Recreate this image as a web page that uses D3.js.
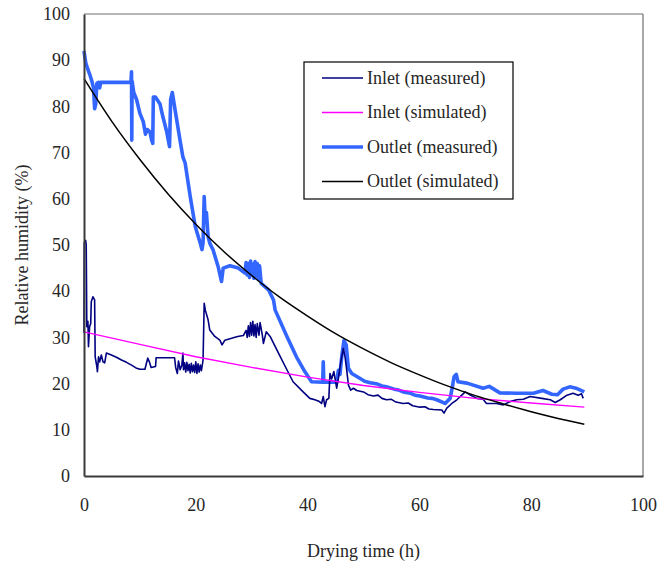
<!DOCTYPE html>
<html>
<head>
<meta charset="utf-8">
<script src="https://cdn.jsdelivr.net/npm/d3@7"></script>
<style>
  html, body { margin: 0; padding: 0; background: #fff; }
  svg { display: block; }
  text { font-family: "Liberation Serif", "Times New Roman", serif; fill: #262626; }
</style>
</head>
<body>
<svg id="chart" width="658" height="564"></svg>
<script>
// Relative humidity at dryer inlet and outlet, [drying time (h), RH (%)]
const inletMeasured = [
  [0.0, 31.0], [0.05, 50.5], [0.3, 51.0], [0.4, 50.0], [0.5, 32.3], [0.7, 33.5], [0.8, 28.0],
  [1.0, 32.3], [1.2, 33.0], [1.3, 37.7], [1.6, 38.8], [1.9, 38.1], [2.0, 25.8], [2.3, 23.7],
  [2.4, 22.6], [2.6, 25.8], [2.8, 24.7], [3.1, 26.2], [3.4, 24.7], [3.7, 24.5], [4.0, 26.6],
  [4.9, 26.2], [5.8, 25.7], [6.7, 25.1], [7.6, 24.6], [8.5, 24.0], [9.3, 23.4], [10.0, 23.1],
  [10.9, 23.1], [11.4, 25.5], [11.7, 24.7],
  [12.0, 23.5], [12.8, 23.7], [12.9, 25.6], [16.2, 25.6], [16.4, 23.5], [16.7, 22.2], [16.9, 24.9],
  [17.2, 23.0], [17.5, 24.0], [17.7, 26.6], [17.8, 23.0], [18.0, 24.5], [18.2, 22.5], [18.4, 24.6],
  [18.6, 22.8], [18.8, 24.2], [19.0, 22.3], [19.2, 24.4], [19.4, 22.6], [19.6, 24.0], [19.8, 22.4],
  [20.0, 24.7], [20.2, 22.2], [20.4, 24.3], [20.6, 22.5], [20.8, 24.0], [21.0, 22.8], [21.3, 25.1],
  [21.5, 37.4], [21.7, 35.9], [22.2, 33.8], [22.5, 31.6], [23.4, 30.2], [24.3, 29.4], [24.7, 28.4],
  [25.2, 29.4], [26.4, 29.8], [27.5, 30.2], [28.5, 30.4], [29.0, 31.5], [29.2, 30.0], [29.4, 32.5],
  [29.6, 30.2], [29.8, 33.2], [30.0, 30.5], [30.2, 33.5], [30.4, 30.3], [30.6, 32.8], [30.8, 30.0],
  [31.0, 33.0], [31.3, 30.5], [31.5, 33.2], [31.9, 30.5], [32.1, 28.7], [32.6, 31.2], [33.3, 30.2],
  [34.5, 27.3], [36.0, 23.7], [37.4, 20.4], [39.2, 18.2], [40.4, 16.8], [41.3, 16.5], [42.0, 16.2],
  [42.5, 15.7], [42.8, 17.2], [43.1, 15.0], [43.4, 16.5], [43.8, 16.8], [44.0, 22.2], [44.3, 21.0],
  [44.7, 22.6], [45.0, 20.5], [45.2, 19.0], [45.5, 21.1], [45.9, 24.4], [46.4, 27.6], [46.7, 25.8],
  [47.0, 22.9], [47.3, 19.7], [47.7, 18.6], [48.2, 19.0], [48.8, 18.5], [50.0, 18.2], [50.8, 17.6],
  [51.8, 17.3], [52.6, 17.5], [53.3, 16.8], [54.1, 16.5], [55.0, 16.6], [55.8, 16.0], [57.1, 15.7],
  [58.0, 15.8], [58.8, 15.2], [60.1, 14.9], [61.0, 15.0], [61.7, 14.5], [62.5, 14.4], [64.0, 14.3],
  [64.4, 13.6], [64.9, 14.7],
  [65.8, 15.7], [66.7, 16.5], [67.3, 17.2], [68.2, 18.2], [69.1, 17.5], [70.3, 16.8], [71.4, 16.6],
  [72.0, 15.7], [73.8, 15.7], [75.0, 15.4], [76.2, 16.1], [77.4, 16.5], [78.6, 16.6], [79.8, 17.2],
  [81.9, 16.8], [83.4, 16.5], [84.3, 15.9], [85.2, 16.5], [86.4, 17.5], [87.5, 17.9], [88.4, 17.5],
  [89.0, 17.8], [89.3, 16.8]
];

const inletSimulated = [
  [0, 31.2], [10, 28.5], [20, 25.8], [30, 23.5], [40, 21.4], [50, 19.6],
  [60, 18.1], [70, 16.8], [80, 15.8], [89.5, 14.9]
];

const outletMeasured = [
  [0.0, 92.0], [0.3, 89.5], [0.7, 88.0], [1.0, 87.0], [1.4, 85.5], [1.7, 84.0], [1.9, 79.5],
  [2.1, 80.5], [2.3, 85.0], [2.6, 85.2], [2.8, 84.0], [3.0, 85.2], [8.4, 85.2], [8.5, 87.5],
  [8.55, 72.7], [8.6, 85.5], [8.9, 83.0], [9.4, 81.5], [10.0, 78.5], [10.6, 76.7], [11.0, 74.0],
  [11.3, 75.0], [11.8, 74.5], [12.1, 72.7], [12.3, 72.0], [12.4, 82.0], [12.8, 82.0], [13.6, 80.5],
  [14.1, 77.8], [14.8, 74.5], [15.3, 71.3], [15.5, 81.5], [15.8, 83.0], [16.3, 79.2], [16.8, 75.5],
  [17.2, 72.5], [17.7, 69.0], [18.1, 67.7], [19.0, 60.5], [19.9, 54.0], [20.8, 50.4], [21.1, 49.0],
  [21.3, 50.5], [21.5, 60.5], [21.7, 55.0], [21.9, 57.0], [22.2, 51.8], [22.5, 50.4], [23.1, 48.9],
  [24.0, 45.3], [24.6, 42.1], [24.9, 45.0], [26.1, 45.5], [27.6, 45.0], [28.8, 43.9], [29.0, 46.2],
  [29.2, 43.5], [29.4, 46.0], [29.6, 43.0], [29.8, 46.5], [30.0, 43.5], [30.2, 45.8], [30.4, 42.8],
  [30.6, 46.4], [30.8, 43.2], [31.0, 46.0], [31.2, 42.5], [31.4, 45.5], [31.7, 41.7], [33.0, 40.3],
  [33.9, 38.1], [34.2, 35.9], [36.3, 30.2], [38.0, 25.8], [39.5, 22.6], [40.7, 20.4], [42.7, 20.3],
  [42.8, 24.7], [42.9, 20.3], [45.2, 20.3], [45.5, 22.9], [45.8, 22.0], [46.1, 25.8], [46.5, 29.3],
  [46.9, 28.4], [47.3, 23.3], [47.9, 22.2], [49.4, 21.1], [50.2, 20.5], [51.2, 20.2], [52.5, 19.9],
  [53.3, 19.5], [54.1, 19.3], [55.5, 18.8], [56.3, 18.6], [57.1, 18.2], [58.4, 17.9], [59.2, 17.5],
  [60.1, 17.3], [61.5, 16.9], [62.3, 16.8], [63.1, 16.5], [64.6, 15.7], [65.5, 16.8], [65.9, 19.3],
  [66.2, 21.5], [66.6, 22.0],
  [66.9, 20.4], [68.5, 20.1], [71.4, 19.0], [72.5, 19.4], [74.4, 18.0], [77.4, 17.9], [80.4, 17.9],
  [82.1, 18.5], [83.7, 17.7], [84.7, 17.6], [85.7, 18.8], [86.9, 19.3], [88.0, 19.0], [89.5, 18.2]
];

const outletSimulated = [
  [0, 86.0], [5, 76.7], [10, 68.5], [15, 61.1], [20, 54.5], [25, 48.6], [30, 43.4],
  [35, 38.7], [40, 34.6], [45, 30.8], [50, 27.5], [55, 24.5], [60, 21.9], [65, 19.5],
  [70, 17.4], [75, 15.6], [80, 13.9], [85, 12.4], [89.5, 11.2]
];

const yTicks = [0, 10, 20, 30, 40, 50, 60, 70, 80, 90, 100];
const xTicks = [0, 20, 40, 60, 80, 100];
const seriesNames = ["Inlet (measured)", "Inlet (simulated)", "Outlet (measured)", "Outlet (simulated)"];
const xTitle = "Drying time (h)";
const yTitle = "Relative humidity (%)";

// ---- drawing ----
const svg = d3.select("#chart");
const plot = { left: 84, right: 643, top: 14, bottom: 476 };

const x = d3.scaleLinear().domain([0, 100]).range([plot.left, plot.right]);
const y = d3.scaleLinear().domain([0, 100]).range([plot.bottom, plot.top]);

const styles = [
  { data: inletMeasured,  color: "#000080", width: 1.6, curve: d3.curveLinear },
  { data: inletSimulated, color: "#ff00ff", width: 1.4, curve: d3.curveLinear },
  { data: outletMeasured, color: "#3366ff", width: 3.6, curve: d3.curveLinear },
  { data: outletSimulated, color: "#000000", width: 1.5, curve: d3.curveMonotoneX }
];

// plot frame: light top/right border, darker axes
svg.append("line").attr("x1", plot.left).attr("x2", plot.right).attr("y1", plot.top).attr("y2", plot.top)
  .attr("stroke", "#6e6e6e").attr("stroke-width", 1.2);
svg.append("line").attr("x1", plot.right).attr("x2", plot.right).attr("y1", plot.top).attr("y2", plot.bottom)
  .attr("stroke", "#6e6e6e").attr("stroke-width", 1.2);

// series lines (drawn so the simulated outlet sits on top)
const drawOrder = [2, 0, 1, 3];
drawOrder.forEach(i => {
  const s = styles[i];
  const line = d3.line().x(d => x(d[0])).y(d => y(d[1])).curve(s.curve);
  svg.append("path")
    .datum(s.data)
    .attr("d", line)
    .attr("fill", "none")
    .attr("stroke", s.color)
    .attr("stroke-width", s.width)
    .attr("stroke-linejoin", "round");
});

// axes
const yAxis = d3.axisLeft(y).tickValues(yTicks).tickSize(0).tickPadding(14).tickFormat(d3.format("d"));
const xAxis = d3.axisBottom(x).tickValues(xTicks).tickSize(0).tickPadding(22).tickFormat(d3.format("d"));

const gy = svg.append("g").attr("transform", `translate(${plot.left},0)`).call(yAxis);
const gx = svg.append("g").attr("transform", `translate(0,${plot.bottom})`).call(xAxis);
[gx, gy].forEach(g => {
  g.select(".domain").attr("stroke", "#3a3a3a").attr("stroke-width", 2);
  g.selectAll("text").attr("font-size", 18).attr("font-family", "Liberation Serif").attr("fill", "#262626");
});

// axis titles
svg.append("text")
  .attr("x", (plot.left + plot.right) / 2).attr("y", 557)
  .attr("text-anchor", "middle").attr("font-size", 18)
  .text(xTitle);
svg.append("text")
  .attr("transform", `translate(28,${(plot.top + plot.bottom) / 2}) rotate(-90)`)
  .attr("text-anchor", "middle").attr("font-size", 18)
  .text(yTitle);

// legend
const legend = svg.append("g").attr("transform", "translate(304,62)");
legend.append("rect").attr("width", 209).attr("height", 137)
  .attr("fill", "#fff").attr("stroke", "#000").attr("stroke-width", 1.2);
seriesNames.forEach((name, i) => {
  const cy = 16 + i * 34.5;
  legend.append("line").attr("x1", 18).attr("x2", 59).attr("y1", cy).attr("y2", cy)
    .attr("stroke", styles[i].color).attr("stroke-width", styles[i].width);
  legend.append("text").attr("x", 63).attr("y", cy).attr("dy", "0.33em")
    .attr("font-size", 18).text(name);
});
</script>
</body>
</html>
